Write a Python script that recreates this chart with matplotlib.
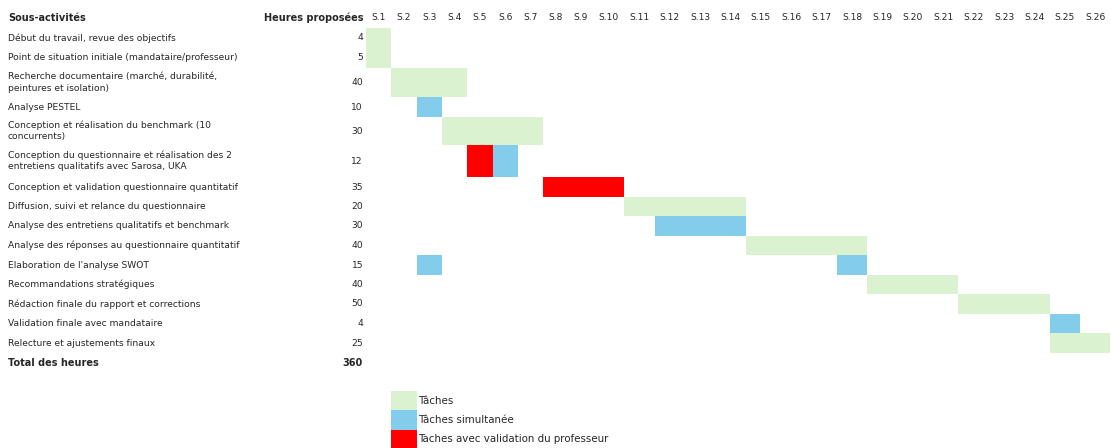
import numpy as np
import matplotlib
matplotlib.use("Agg")
import matplotlib.pyplot as plt

plt.rcParams["font.family"] = ["Liberation Sans Narrow", "DejaVu Sans"]

# Planning data
tasks = [
    "Début du travail, revue des objectifs",
    "Point de situation initiale (mandataire/professeur)",
    "Recherche documentaire (marché, durabilité,\npeintures et isolation)",
    "Analyse PESTEL",
    "Conception et réalisation du benchmark (10\nconcurrents)",
    "Conception du questionnaire et réalisation des 2\nentretiens qualitatifs avec Sarosa, UKA",
    "Conception et validation questionnaire quantitatif",
    "Diffusion, suivi et relance du questionnaire",
    "Analyse des entretiens qualitatifs et benchmark",
    "Analyse des réponses au questionnaire quantitatif",
    "Elaboration de l'analyse SWOT",
    "Recommandations stratégiques",
    "Rédaction finale du rapport et corrections",
    "Validation finale avec mandataire",
    "Relecture et ajustements finaux",
]
hours = [4, 5, 40, 10, 30, 12, 35, 20, 30, 40, 15, 40, 50, 4, 25]
weeks = [f"S.{i}" for i in range(1, 27)]

# (task index, first week, number of weeks, kind)
blocks = [
    (0, 1, 1, "tache"),
    (1, 1, 1, "tache"),
    (2, 2, 3, "tache"),
    (3, 3, 1, "simult"),
    (4, 4, 4, "tache"),
    (5, 5, 1, "valid"),
    (5, 6, 1, "simult"),
    (6, 8, 3, "valid"),
    (7, 11, 4, "tache"),
    (8, 12, 3, "simult"),
    (9, 15, 4, "tache"),
    (10, 3, 1, "simult"),
    (10, 18, 1, "simult"),
    (11, 19, 3, "tache"),
    (12, 22, 3, "tache"),
    (13, 25, 1, "simult"),
    (14, 25, 2, "tache"),
]

legend_kinds = ["tache", "simult", "valid"]
legend_labels = ["Tâches", "Tâches simultanée", "Taches avec validation du professeur"]
colors = {"tache": "#DAF2D0", "simult": "#83CCEB", "valid": "#FF0000"}

# Sheet layout: column / row edges in pixels
W, H = 1111, 448
col_widths = [25.3] * 9 + [30.4] * 17
col_edges = np.concatenate([[366.0], 366.0 + np.cumsum(col_widths)])
row_edges = np.array([8, 28, 48, 68, 97, 117, 145, 177, 197, 216, 236, 255,
                      275, 294, 314, 333, 353, 372, 391, 410, 430, 448], float)


def piecewise(xp, fp):
    xp, fp = np.asarray(xp, float), np.asarray(fp, float)

    def f(x):
        x = np.asarray(x, float)
        y = np.interp(x, xp, fp)
        y = np.where(x < xp[0], fp[0] + (x - xp[0]) * (fp[1] - fp[0]) / (xp[1] - xp[0]), y)
        y = np.where(x > xp[-1], fp[-1] + (x - xp[-1]) * (fp[-1] - fp[-2]) / (xp[-1] - xp[-2]), y)
        return y
    return f


wk_idx = np.arange(len(col_edges))
row_idx = np.arange(len(row_edges))
x_fwd, x_inv = piecewise(wk_idx, col_edges), piecewise(col_edges, wk_idx)
y_fwd, y_inv = piecewise(row_idx, row_edges), piecewise(row_edges, row_idx)

fig = plt.figure(figsize=(W / 100, H / 100), dpi=100)
ax = fig.add_axes([0, 0, 1, 1])
ax.set_xscale("function", functions=(x_fwd, x_inv))
ax.set_yscale("function", functions=(y_fwd, y_inv))
ax.set_xlim(float(x_inv(0)), float(x_inv(W)))
ax.set_ylim(float(y_inv(H)), float(y_inv(0)))
ax.axis("off")

txt = "#262626"
fs = 6.6
fs_head = 7
fs_leg = 7.4
xlab = ax.get_yaxis_transform()  # x in axes fraction, y in rows

# header row
ax.text(8 / W, 0.5, "Sous-activités", transform=xlab, ha="left", va="center",
        fontsize=fs_head, fontweight="bold", color=txt)
ax.text(363 / W, 0.5, "Heures proposées", transform=xlab, ha="right", va="center",
        fontsize=fs_head, fontweight="bold", color=txt)
for i, w in enumerate(weeks):
    ax.text(i + 0.5, 0.5, w, ha="center", va="center", fontsize=fs, color=txt)

# task rows
for i, (t, h) in enumerate(zip(tasks, hours)):
    r = i + 1.5
    ax.text(8 / W, r, t, transform=xlab, ha="left", va="center",
            fontsize=fs, color=txt, linespacing=1.3)
    ax.text(363 / W, r, str(h), transform=xlab, ha="right", va="center",
            fontsize=fs, color=txt)

total_row = len(tasks) + 1.5
ax.text(8 / W, total_row, "Total des heures", transform=xlab, ha="left", va="center",
        fontsize=fs_head, fontweight="bold", color=txt)
ax.text(363 / W, total_row, str(sum(hours)), transform=xlab, ha="right", va="center",
        fontsize=fs_head, fontweight="bold", color=txt)

# gantt blocks
for task, start, dur, kind in blocks:
    ax.barh(task + 1, dur, left=start - 1, height=1, align="edge",
            color=colors[kind], linewidth=0)

# legend cells under the grid
leg_row0 = len(tasks) + 3
for k, (kind, lab) in enumerate(zip(legend_kinds, legend_labels)):
    ax.barh(leg_row0 + k, 1, left=1, height=1, align="edge",
            color=colors[kind], linewidth=0)
    ax.text(2.07, leg_row0 + k + 0.5, lab, ha="left", va="center",
            fontsize=fs_leg, color=txt)

fig.savefig("out.png", dpi=100)
